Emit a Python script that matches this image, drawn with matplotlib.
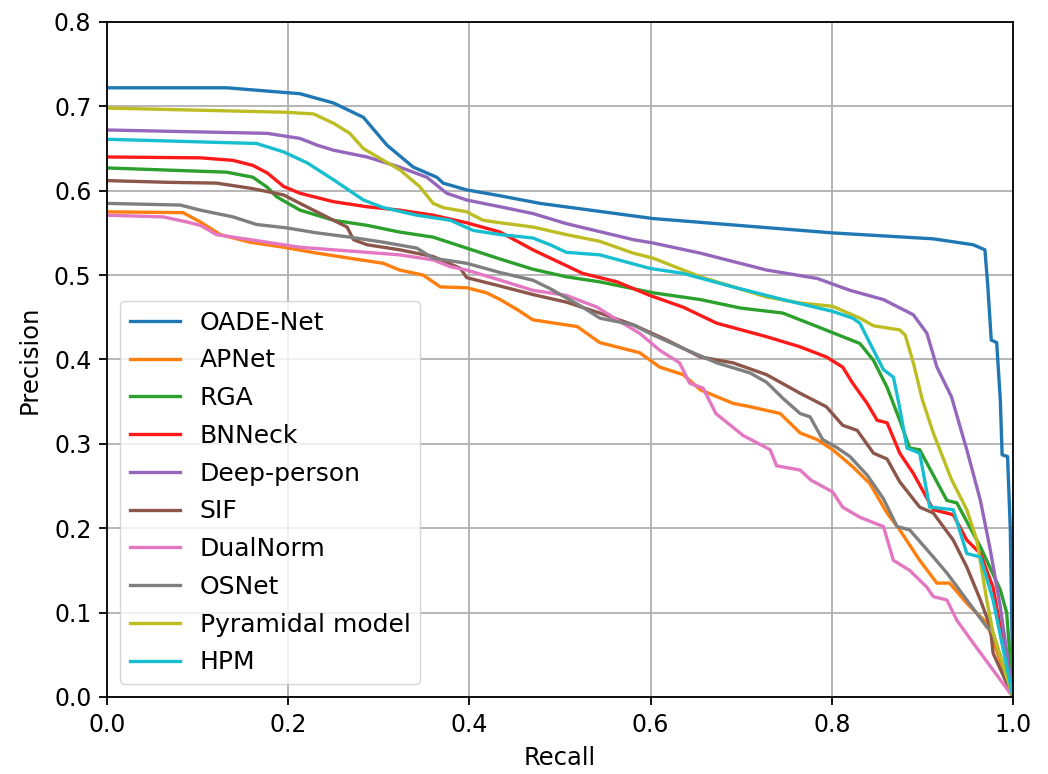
import matplotlib
matplotlib.use("Agg")
import matplotlib.pyplot as plt

# recall / precision points
oade_r = [0.0, 0.132, 0.213, 0.25, 0.283, 0.309, 0.338, 0.364, 0.371, 0.397, 0.434, 0.478, 0.603, 0.801, 0.912, 0.956, 0.969, 0.972, 0.976, 0.982, 0.986, 0.988, 0.994, 0.997, 1.0]
oade_p = [0.722, 0.722, 0.715, 0.704, 0.687, 0.654, 0.628, 0.616, 0.609, 0.601, 0.594, 0.585, 0.567, 0.55, 0.543, 0.536, 0.53, 0.49, 0.423, 0.42, 0.352, 0.287, 0.285, 0.2, 0.0]

apnet_r = [0.0, 0.084, 0.103, 0.125, 0.158, 0.195, 0.232, 0.268, 0.305, 0.323, 0.349, 0.368, 0.397, 0.419, 0.434, 0.453, 0.47, 0.519, 0.544, 0.588, 0.61, 0.636, 0.655, 0.691, 0.71, 0.743, 0.765, 0.784, 0.801, 0.823, 0.842, 0.861, 0.875, 0.897, 0.916, 0.93, 0.949, 0.971, 1.0]
apnet_p = [0.575, 0.574, 0.563, 0.548, 0.539, 0.533, 0.526, 0.52, 0.514, 0.506, 0.5, 0.486, 0.485, 0.479, 0.471, 0.459, 0.447, 0.439, 0.42, 0.408, 0.391, 0.382, 0.364, 0.348, 0.344, 0.336, 0.313, 0.305, 0.293, 0.273, 0.253, 0.218, 0.198, 0.162, 0.135, 0.135, 0.111, 0.088, 0.0]

rga_r = [0.0, 0.132, 0.161, 0.177, 0.187, 0.213, 0.25, 0.287, 0.323, 0.36, 0.397, 0.434, 0.47, 0.507, 0.544, 0.603, 0.655, 0.699, 0.746, 0.784, 0.812, 0.831, 0.846, 0.861, 0.875, 0.886, 0.897, 0.912, 0.927, 0.938, 0.964, 0.986, 0.993, 1.0]
rga_p = [0.627, 0.622, 0.616, 0.604, 0.593, 0.577, 0.565, 0.559, 0.551, 0.545, 0.532, 0.519, 0.507, 0.498, 0.492, 0.479, 0.471, 0.461, 0.455, 0.439, 0.427, 0.419, 0.399, 0.367, 0.328, 0.295, 0.293, 0.263, 0.233, 0.23, 0.178, 0.127, 0.1, 0.0]

bnneck_r = [0.0, 0.103, 0.139, 0.161, 0.177, 0.195, 0.213, 0.25, 0.287, 0.323, 0.36, 0.397, 0.434, 0.47, 0.525, 0.563, 0.599, 0.636, 0.673, 0.728, 0.765, 0.794, 0.812, 0.823, 0.839, 0.85, 0.861, 0.875, 0.89, 0.912, 0.934, 0.949, 0.964, 0.978, 1.0]
bnneck_p = [0.64, 0.639, 0.636, 0.63, 0.621, 0.605, 0.597, 0.587, 0.581, 0.577, 0.571, 0.562, 0.551, 0.53, 0.502, 0.492, 0.476, 0.462, 0.443, 0.427, 0.415, 0.403, 0.391, 0.372, 0.348, 0.328, 0.325, 0.289, 0.265, 0.222, 0.216, 0.186, 0.17, 0.13, 0.0]

deep_r = [0.0, 0.177, 0.213, 0.232, 0.25, 0.287, 0.323, 0.353, 0.375, 0.397, 0.434, 0.47, 0.507, 0.581, 0.603, 0.655, 0.728, 0.784, 0.82, 0.857, 0.89, 0.905, 0.916, 0.932, 0.949, 0.964, 0.975, 0.986, 1.0]
deep_p = [0.672, 0.668, 0.662, 0.654, 0.648, 0.64, 0.628, 0.616, 0.597, 0.589, 0.581, 0.573, 0.561, 0.542, 0.538, 0.526, 0.506, 0.496, 0.482, 0.471, 0.453, 0.431, 0.391, 0.356, 0.293, 0.233, 0.174, 0.107, 0.0]

sif_r = [0.0, 0.066, 0.121, 0.158, 0.177, 0.195, 0.213, 0.25, 0.265, 0.272, 0.287, 0.323, 0.36, 0.39, 0.397, 0.434, 0.47, 0.507, 0.544, 0.581, 0.618, 0.655, 0.691, 0.728, 0.765, 0.794, 0.812, 0.828, 0.846, 0.861, 0.875, 0.897, 0.912, 0.934, 0.949, 0.964, 0.975, 0.978, 1.0]
sif_p = [0.612, 0.61, 0.609, 0.603, 0.599, 0.595, 0.585, 0.565, 0.557, 0.542, 0.536, 0.53, 0.522, 0.508, 0.497, 0.487, 0.477, 0.468, 0.455, 0.441, 0.423, 0.403, 0.396, 0.382, 0.36, 0.344, 0.322, 0.316, 0.289, 0.282, 0.255, 0.225, 0.218, 0.186, 0.154, 0.115, 0.083, 0.052, 0.0]

dual_r = [0.0, 0.062, 0.088, 0.103, 0.121, 0.158, 0.213, 0.287, 0.323, 0.36, 0.379, 0.397, 0.434, 0.47, 0.507, 0.541, 0.563, 0.588, 0.61, 0.632, 0.643, 0.658, 0.672, 0.702, 0.732, 0.739, 0.765, 0.777, 0.801, 0.812, 0.831, 0.857, 0.868, 0.886, 0.905, 0.912, 0.927, 0.938, 0.956, 1.0]
dual_p = [0.571, 0.569, 0.563, 0.559, 0.548, 0.542, 0.533, 0.527, 0.524, 0.518, 0.51, 0.506, 0.494, 0.482, 0.476, 0.462, 0.447, 0.431, 0.411, 0.396, 0.372, 0.366, 0.336, 0.31, 0.293, 0.274, 0.269, 0.257, 0.243, 0.225, 0.213, 0.202, 0.162, 0.15, 0.13, 0.119, 0.115, 0.091, 0.064, 0.0]

osnet_r = [0.0, 0.081, 0.103, 0.139, 0.165, 0.198, 0.232, 0.268, 0.305, 0.342, 0.36, 0.397, 0.434, 0.47, 0.489, 0.525, 0.544, 0.581, 0.599, 0.636, 0.673, 0.71, 0.728, 0.746, 0.765, 0.776, 0.79, 0.805, 0.82, 0.839, 0.857, 0.872, 0.886, 0.912, 0.927, 0.949, 0.971, 0.978, 1.0]
osnet_p = [0.585, 0.583, 0.577, 0.569, 0.56, 0.556, 0.55, 0.545, 0.539, 0.532, 0.52, 0.514, 0.503, 0.494, 0.484, 0.462, 0.449, 0.441, 0.431, 0.413, 0.396, 0.384, 0.373, 0.354, 0.336, 0.332, 0.305, 0.296, 0.285, 0.263, 0.235, 0.202, 0.198, 0.166, 0.147, 0.115, 0.083, 0.076, 0.0]

pyr_r = [0.0, 0.198, 0.228, 0.25, 0.268, 0.283, 0.305, 0.323, 0.345, 0.36, 0.371, 0.397, 0.415, 0.434, 0.47, 0.507, 0.544, 0.581, 0.603, 0.655, 0.728, 0.765, 0.801, 0.831, 0.846, 0.875, 0.881, 0.89, 0.9, 0.912, 0.932, 0.949, 0.96, 0.971, 0.978, 0.993, 1.0]
pyr_p = [0.698, 0.693, 0.691, 0.68, 0.668, 0.65, 0.636, 0.625, 0.605, 0.585, 0.58, 0.575, 0.565, 0.562, 0.557, 0.548, 0.54, 0.526, 0.52, 0.498, 0.474, 0.467, 0.463, 0.449, 0.44, 0.435, 0.429, 0.396, 0.352, 0.313, 0.258, 0.222, 0.186, 0.115, 0.076, 0.024, 0.0]

hpm_r = [0.0, 0.165, 0.195, 0.221, 0.25, 0.283, 0.305, 0.342, 0.379, 0.404, 0.434, 0.47, 0.489, 0.507, 0.544, 0.599, 0.636, 0.691, 0.746, 0.801, 0.823, 0.831, 0.846, 0.857, 0.868, 0.874, 0.883, 0.897, 0.908, 0.934, 0.949, 0.964, 0.978, 1.0]
hpm_p = [0.661, 0.656, 0.646, 0.633, 0.613, 0.589, 0.58, 0.571, 0.565, 0.553, 0.548, 0.544, 0.536, 0.527, 0.524, 0.508, 0.502, 0.486, 0.471, 0.457, 0.449, 0.443, 0.411, 0.388, 0.379, 0.348, 0.295, 0.289, 0.225, 0.222, 0.17, 0.166, 0.115, 0.0]

labels = ['OADE-Net', 'APNet', 'RGA', 'BNNeck', 'Deep-person', 'SIF',
          'DualNorm', 'OSNet', 'Pyramidal model', 'HPM']
recalls = [oade_r, apnet_r, rga_r, bnneck_r, deep_r, sif_r, dual_r, osnet_r, pyr_r, hpm_r]
precisions = [oade_p, apnet_p, rga_p, bnneck_p, deep_p, sif_p, dual_p, osnet_p, pyr_p, hpm_p]
colors = ['#1f77b4', '#ff7f0e', '#2ca02c', '#ff1a1a', '#9467bd', '#8c564b',
          '#e377c2', '#7f7f7f', '#bcbd22', '#17becf']

fig = plt.figure(figsize=(10.48, 7.74), dpi=100)
ax = fig.add_axes([0.1021, 0.0995, 0.8645, 0.8721])

for r, p, c, lab in zip(recalls, precisions, colors, labels):
    ax.plot(r, p, color=c, linewidth=2.4, label=lab)

ax.set_xlim(0, 1.0)
ax.set_ylim(0, 0.8)
ax.set_xticks([0.0, 0.2, 0.4, 0.6, 0.8, 1.0])
ax.set_yticks([0.0, 0.1, 0.2, 0.3, 0.4, 0.5, 0.6, 0.7, 0.8])
ax.grid(True, color='#b0b0b0', linewidth=1.3)
ax.tick_params(labelsize=17, width=1.3, length=5.7, pad=5.5)
for s in ax.spines.values():
    s.set_linewidth(1.3)
ax.set_xlabel('Recall', fontsize=17.5, labelpad=7)
ax.set_ylabel('Precision', fontsize=17.5, labelpad=9)
ax.legend(loc='lower left', fontsize=18, handlelength=2.0, labelspacing=0.55,
          borderaxespad=0.5)

fig.savefig('out.png', dpi=100)
